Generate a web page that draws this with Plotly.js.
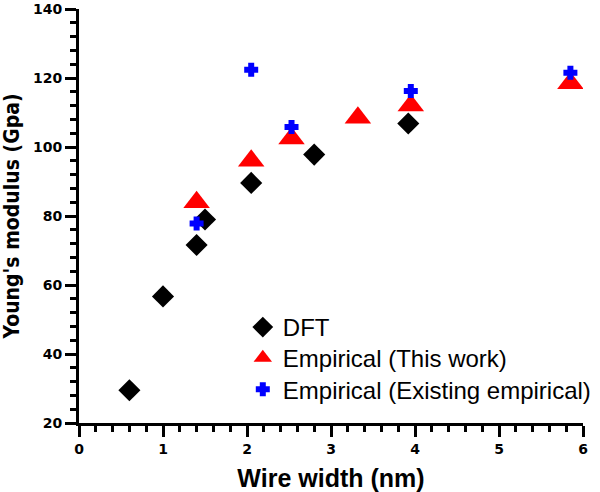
<!DOCTYPE html>
<html>
<head>
<meta charset="utf-8">
<script src="https://cdn.plot.ly/plotly-3.0.1.min.js"></script>
<style>
  html, body { margin: 0; padding: 0; background: #fff; }
  #chart { width: 600px; height: 492px; }
</style>
</head>
<body>
<div id="chart"></div>
<script>
// wire width (nm) and Young's modulus (Gpa)
var dftX = [0.6, 1.0, 1.4, 1.5, 2.05, 2.8, 3.92];
var dftY = [29.5, 56.7, 71.6, 79.0, 89.6, 97.8, 106.8];

var thisWorkX = [1.4, 2.05, 2.53, 3.32, 3.95, 5.85];
var thisWorkY = [84.0, 96.0, 102.5, 108.5, 112.0, 118.5];

var existingX = [1.4, 2.05, 2.53, 3.95, 5.85];
var existingY = [77.8, 122.4, 105.8, 116.2, 121.5];

var seriesNames = ['DFT', 'Empirical (This work)', 'Empirical (Existing empirical)'];

var fontFamily = '"Liberation Sans", Arial, sans-serif';
var tickFamily = '"DejaVu Sans", sans-serif';
var condFamily = '"DejaVu Sans Condensed", "Liberation Sans", Arial, sans-serif';

var data = [
  {
    x: dftX, y: dftY, name: seriesNames[0], legend: 'legend',
    mode: 'markers', type: 'scatter',
    marker: { symbol: 'diamond', size: 17, color: '#000000' }
  },
  {
    x: thisWorkX, y: thisWorkY, name: seriesNames[1], legend: 'legend2',
    mode: 'markers', type: 'scatter',
    marker: { symbol: 'triangle-up', size: 23, color: '#ff0000' }
  },
  {
    x: existingX, y: existingY, name: seriesNames[2], legend: 'legend3',
    mode: 'markers', type: 'scatter',
    marker: { symbol: 'cross', size: 10, color: '#0000ff', line: { color: '#0000ff', width: 2 } }
  }
];

// one legend per row so the row spacing can follow the figure
function legendAt(y) {
  return {
    x: 0.325, y: y, xanchor: 'left', yanchor: 'top',
    bgcolor: 'rgba(0,0,0,0)',
    font: { size: 24, color: '#000', family: fontFamily },
    itemsizing: 'trace'
  };
}

var layout = {
  width: 600,
  height: 492,
  margin: { l: 79, r: 17, t: 9, b: 69, autoexpand: false },
  paper_bgcolor: '#fff',
  plot_bgcolor: '#fff',
  font: { family: fontFamily, color: '#000' },
  showlegend: true,
  legend: legendAt(0.285),
  legend2: legendAt(0.211),
  legend3: legendAt(0.135),
  xaxis: {
    range: [0, 6],
    dtick: 1,
    showgrid: false,
    zeroline: false,
    showline: true,
    linewidth: 3,
    linecolor: '#000',
    ticks: 'outside',
    ticklen: 11,
    tickwidth: 3,
    tickcolor: '#000',
    minor: { dtick: 0.2, ticks: 'outside', ticklen: 6, tickwidth: 3, tickcolor: '#000', showgrid: false },
    tickfont: { size: 14, weight: 'bold', family: tickFamily },
    title: { text: 'Wire width (nm)', font: { size: 25, weight: 'bold', family: fontFamily }, standoff: 15 }
  },
  yaxis: {
    range: [20, 140],
    dtick: 20,
    showgrid: false,
    zeroline: false,
    showline: true,
    linewidth: 3,
    linecolor: '#000',
    ticks: 'outside',
    ticklen: 11,
    tickwidth: 3,
    tickcolor: '#000',
    minor: { dtick: 4, ticks: 'outside', ticklen: 6, tickwidth: 3, tickcolor: '#000', showgrid: false },
    tickfont: { size: 14, weight: 'bold', family: tickFamily },
    title: { text: "Young's modulus (Gpa)", font: { size: 21, weight: 'bold', family: condFamily }, standoff: 11 }
  }
};

Plotly.newPlot('chart', data, layout, { displayModeBar: false, staticPlot: true });
</script>
</body>
</html>
